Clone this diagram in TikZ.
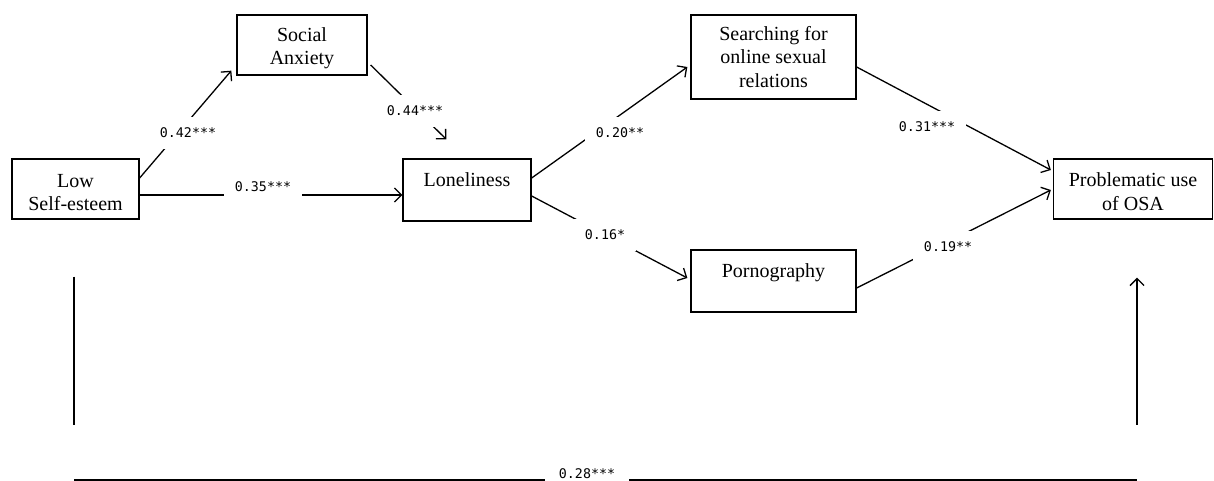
\documentclass[tikz,border=0pt]{standalone}
\usepackage{fontspec}
\setmainfont{Liberation Serif}
\newfontfamily\coeffont{DejaVu Sans Mono}
\usetikzlibrary{arrows.meta,calc}
\begin{document}
\begin{tikzpicture}[x=1pt,y=-1pt,
  box/.style={draw,line width=1.3pt,align=center,inner sep=0pt,
    font=\fontsize{20}{23.5}\selectfont},
  conn/.style={line width=1.3pt,-{Straight Barb[length=7pt,width=14pt,line width=1.3pt]}},
  thick line/.style={line width=2pt},
  coef/.style={fill=white,inner xsep=11pt,inner ysep=11pt,
    font=\coeffont\fontsize{13.3}{15}\selectfont}
]
\useasboundingbox (0,0) rectangle (1214,481);
% boxes
\node[box,minimum width=127pt,minimum height=60pt] (low) at (75.5,189) {\rule{0pt}{20pt}Low\\Self-esteem};
\node[box,minimum width=130pt,minimum height=60pt] (soc) at (302,45) {\rule{0pt}{20pt}Social\\Anxiety};
\node[box,minimum width=128pt,minimum height=62pt] (lon) at (467,190) {Loneliness\\[-10pt]\strut};
\node[box,minimum width=165pt,minimum height=84pt] (srch) at (773.5,57) {Searching for\\online sexual\\relations};
\node[box,minimum width=165pt,minimum height=62pt] (porn) at (773.5,281) {Pornography\\[-10pt]\strut};
\node[box,minimum width=159pt,minimum height=60pt] (prob) at (1133,189) {\rule{0pt}{19.5pt}Problematic use\\of OSA};
% free ends
\coordinate (socend) at ($(lon.north west)+(44,-19)$);
\coordinate (lt) at ($(low.south)+(-1.5,57)$);
\coordinate (lb) at ($(low.south)+(-1.5,205)$);
\coordinate (hl) at ($(low.south)+(-1.5,260)$);
\coordinate (hr) at ($(prob.south)+(4,260)$);
\coordinate (rb) at ($(prob.south)+(4,205)$);
\coordinate (rt) at ($(prob.south)+(4,58)$);
% connectors
\draw[conn] ($(low.east)+(0,-11)$) -- ($(soc.south west)+(-5,-5)$);
\draw[conn] ($(soc.east)+(3,20)$) -- (socend);
\draw[conn] ($(low.east)+(0,6)$) -- ($(lon.west)+(0,5)$);
\draw[conn] ($(lon.east)+(0,-12)$) -- ($(srch.west)+(-3,10)$);
\draw[conn] ($(lon.east)+(0,6)$) -- ($(porn.west)+(-3,-3)$);
\draw[conn] ($(srch.east)+(0,10)$) -- ($(prob.west)+(-2,-19)$);
\draw[conn] ($(porn.east)+(0,7)$) -- ($(prob.west)+(-2,1)$);
\draw[thick line] (lt) -- (lb);
\draw[thick line] (hl) -- (hr);
\draw[conn,line width=1.6pt] (rb) -- (rt);
% coefficients
\node[coef] (c42) at (188,133) {0.42***};
\node[coef] (c44) at (415,111) {0.44***};
\node[coef] (c35) at (263,187) {0.35***};
\node[coef] (c20) at (620,133) {0.20**};
\node[coef] (c16) at (605,235) {0.16*};
\node[coef] (c31) at (927,127) {0.31***};
\node[coef] (c19) at (948,247) {0.19**};
\node[coef,inner xsep=14pt] (c28) at (587,474) {0.28***};
\end{tikzpicture}
\end{document}
